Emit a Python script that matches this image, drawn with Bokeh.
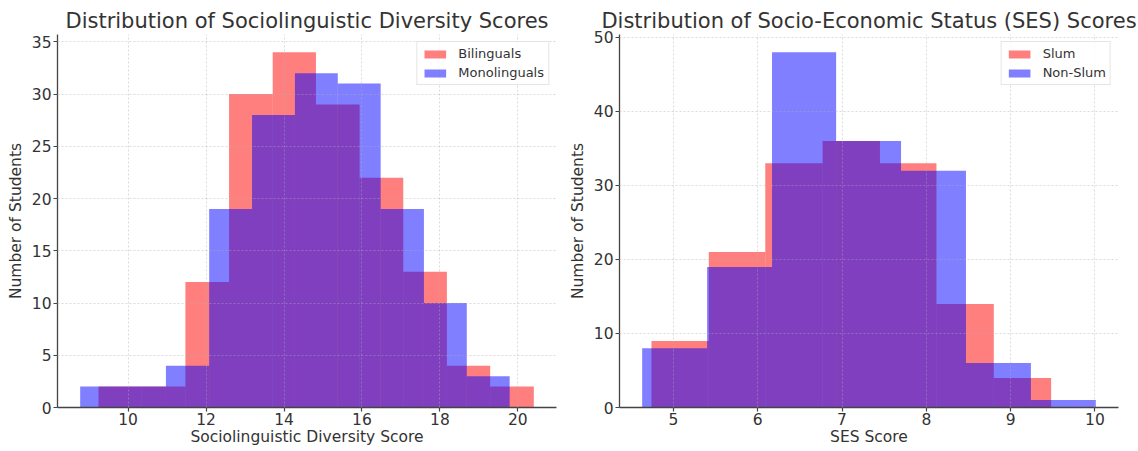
from bokeh.plotting import figure
from bokeh.layouts import row
from bokeh.models import Range1d, FixedTicker, Legend, LegendItem
from bokeh.embed import file_html
from bokeh.resources import INLINE

# ---------------- data ----------------
ling_bilingual_edges = [9.24, 10.35, 11.47, 12.59, 13.71, 14.82, 15.94, 17.06, 18.18, 19.29, 20.41]
ling_bilingual_counts = [2, 2, 12, 30, 34, 29, 22, 13, 4, 2]
ling_monolingual_edges = [8.77, 9.87, 10.97, 12.08, 13.18, 14.28, 15.38, 16.48, 17.59, 18.69, 19.79]
ling_monolingual_counts = [2, 2, 4, 19, 28, 32, 31, 19, 10, 3]

ses_slum_edges = [4.74, 5.42, 6.09, 6.77, 7.45, 8.12, 8.80, 9.48]
ses_slum_counts = [9, 21, 33, 36, 33, 14, 4]
ses_nonslum_edges = [4.63, 5.40, 6.17, 6.93, 7.70, 8.47, 9.24, 10.01]
ses_nonslum_counts = [8, 19, 48, 36, 32, 6, 1]

ling_xticks = [10, 12, 14, 16, 18, 20]
ling_yticks = [0, 5, 10, 15, 20, 25, 30, 35]
ses_xticks = [5, 6, 7, 8, 9, 10]
ses_yticks = [0, 10, 20, 30, 40, 50]

FONT = "DejaVu Sans"
TEXT = "#333333"


def make_hist(title, xlabel, series, xticks, yticks, border_left, border_right):
    all_edges = [e for s in series for e in s[1]]
    xmin, xmax = min(all_edges), max(all_edges)
    xpad = 0.05 * (xmax - xmin)
    ymax = max(c for s in series for c in s[2]) * 1.05

    p = figure(frame_width=499, frame_height=373,
               min_border_left=border_left, min_border_right=border_right,
               min_border_top=34, min_border_bottom=44,
               x_range=Range1d(xmin - xpad, xmax + xpad), y_range=Range1d(0, ymax),
               output_backend="svg", toolbar_location=None)
    p.outline_line_color = None
    p.background_fill_color = "white"

    items = []
    for label, edges, counts, color in series:
        r = p.quad(left=edges[:-1], right=edges[1:], bottom=0, top=counts,
                   fill_color=color, fill_alpha=0.5, line_color=None)
        items.append(LegendItem(label=label, renderers=[r]))

    p.title.text = title
    p.title.align = "center"
    p.title.text_font = FONT
    p.title.text_font_size = "21px"
    p.title.text_font_style = "normal"
    p.title.text_color = TEXT
    p.title.standoff = 3

    p.xaxis.ticker = FixedTicker(ticks=xticks)
    p.yaxis.ticker = FixedTicker(ticks=yticks)
    p.xaxis.axis_label = xlabel
    p.yaxis.axis_label = "Number of Students"
    for ax in (p.xaxis, p.yaxis):
        ax.axis_label_text_font = FONT
        ax.axis_label_text_font_size = "15.5px"
        ax.axis_label_text_font_style = "normal"
        ax.axis_label_text_color = TEXT
        ax.major_label_text_font = FONT
        ax.major_label_text_font_size = "15.5px"
        ax.major_label_text_color = TEXT
        ax.major_tick_out = 4
        ax.major_tick_in = 0
        ax.minor_tick_out = 0
        ax.minor_tick_in = 0
        ax.axis_line_color = "#444444"
        ax.axis_line_width = 1.3
        ax.major_tick_line_color = "#444444"
        ax.major_tick_line_width = 1.2
    p.xaxis.major_label_standoff = 1
    p.xaxis.axis_label_standoff = 0
    p.yaxis.major_label_standoff = 2
    p.yaxis.axis_label_standoff = 4

    for g in (p.xgrid, p.ygrid):
        g.grid_line_color = "#b0b0b0"
        g.grid_line_alpha = 0.5
        g.grid_line_dash = "2 2"
        g.grid_line_width = 0.9
        g.level = "overlay"

    legend = Legend(items=items, location="top_right")
    legend.label_text_font = FONT
    legend.label_text_font_size = "13px"
    legend.label_text_color = TEXT
    legend.glyph_width = 27
    legend.glyph_height = 10
    legend.label_height = 15
    legend.label_standoff = 10
    legend.padding = 4
    legend.spacing = 4
    legend.margin = 7
    legend.border_line_color = "#cccccc"
    legend.border_line_width = 1
    legend.background_fill_alpha = 0.8
    p.add_layout(legend)
    return p


p1 = make_hist("Distribution of Sociolinguistic Diversity Scores",
               "Sociolinguistic Diversity Score",
               [("Bilinguals", ling_bilingual_edges, ling_bilingual_counts, "red"),
                ("Monolinguals", ling_monolingual_edges, ling_monolingual_counts, "blue")],
               ling_xticks, ling_yticks, 57, 9)
p2 = make_hist("Distribution of Socio-Economic Status (SES) Scores",
               "SES Score",
               [("Slum", ses_slum_edges, ses_slum_counts, "red"),
                ("Non-Slum", ses_nonslum_edges, ses_nonslum_counts, "blue")],
               ses_xticks, ses_yticks, 49, 25)

layout = row(p1, p2)
open("out.html", "w").write(file_html(layout, INLINE))
